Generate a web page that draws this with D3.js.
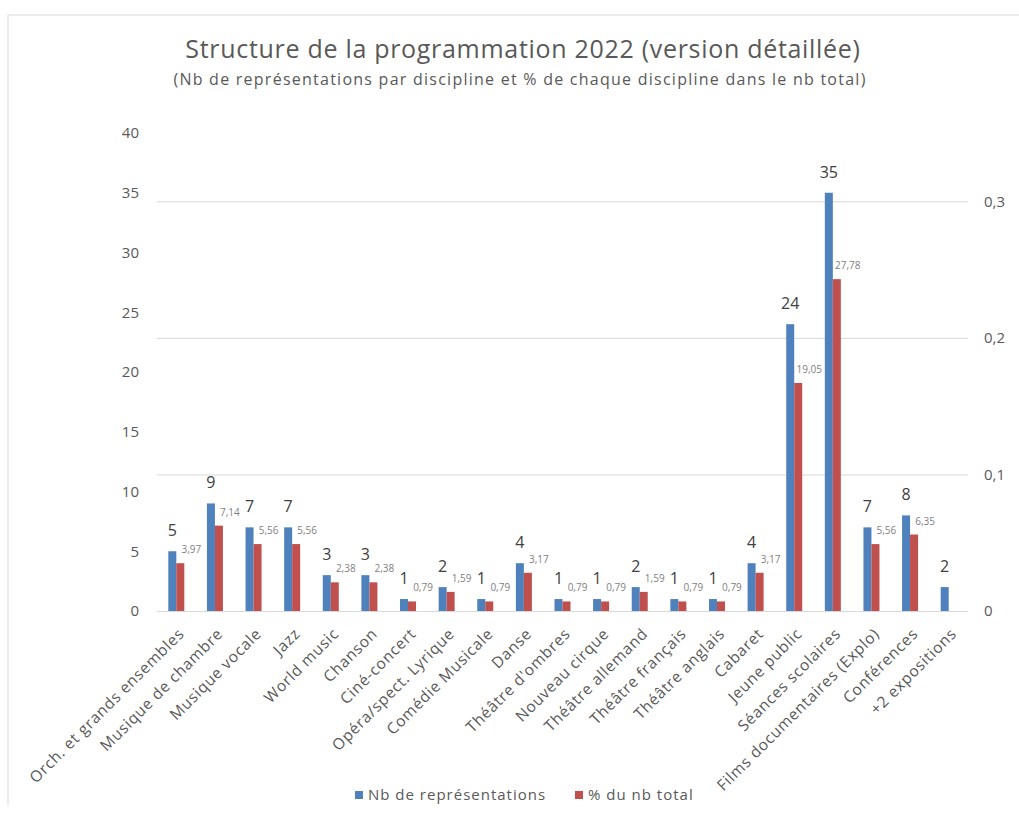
<!DOCTYPE html>
<html>
<head>
<meta charset="utf-8">
<script src="https://cdn.jsdelivr.net/npm/d3@7"></script>
<style>
    body { margin: 0; background: #fff; }
    svg { font-family: "Open Sans", sans-serif; }
</style>
</head>
<body>
<svg></svg>
<script>
const categories = ["Orch. et grands ensembles", "Musique de chambre", "Musique vocale", "Jazz", "World music",
    "Chanson", "Ciné-concert", "Opéra/spect. Lyrique", "Comédie Musicale", "Danse", "Théâtre d'ombres",
    "Nouveau cirque", "Théâtre allemand", "Théâtre français", "Théâtre anglais", "Cabaret", "Jeune public",
    "Séances scolaires", "Films documentaires (Explo)", "Conférences", "+2 expositions"];

// Nb de représentations (axe gauche)
const counts = [5, 9, 7, 7, 3, 3, 1, 2, 1, 4, 1, 1, 2, 1, 1, 4, 24, 35, 7, 8, 2];
// % du nb total (axe droit, tel que tracé)
const shares = [0.035, 0.0625, 0.049, 0.049, 0.021, 0.021, 0.007, 0.014, 0.007, 0.028, 0.007,
    0.007, 0.014, 0.007, 0.007, 0.028, 0.167, 0.243, 0.049, 0.056, null];
// étiquettes affichées pour la série %
const shareLabels = [3.97, 7.14, 5.56, 5.56, 2.38, 2.38, 0.79, 1.59, 0.79, 3.17, 0.79,
    0.79, 1.59, 0.79, 0.79, 3.17, 19.05, 27.78, 5.56, 6.35, null];

const leftTicks = [0, 5, 10, 15, 20, 25, 30, 35, 40];
const rightTicks = [0, 0.1, 0.2, 0.3];
const seriesNames = ["Nb de représentations", "% du nb total"];

let width = 1019,
    height = 819;

const blue = "#4f81bd",
    red = "#c0504d",
    textGray = "#595959";

const frLocale = d3.formatLocale({ decimal: ",", thousands: " ", grouping: [3], currency: ["", " €"] });
const fmt = frLocale.format("~g");
const fmt2 = frLocale.format(".2f");

const svg = d3.select("svg")
    .attr("width", width)
    .attr("height", height);

// cadre
svg.append("path")
    .attr("d", "M8,805 L8,15 L1019,15")
    .attr("fill", "none")
    .attr("stroke", "#d9d9d9");

const plot = { left: 157, right: 968, top: 133, bottom: 611 };

const x = d3.scaleBand()
    .domain(categories)
    .range([plot.left, plot.right]);

const yLeft = d3.scaleLinear()
    .domain([0, 40])
    .range([plot.bottom, plot.top]);

const yRight = d3.scaleLinear()
    .domain([0, 0.35])
    .range([plot.bottom, plot.top]);

const barW = 8;

// titres
svg.append("text")
    .attr("x", 523).attr("y", 58)
    .attr("text-anchor", "middle")
    .attr("font-size", 25)
    .attr("letter-spacing", 0.7)
    .attr("fill", textGray)
    .text("Structure de la programmation 2022 (version détaillée)");

svg.append("text")
    .attr("x", 520).attr("y", 85)
    .attr("text-anchor", "middle")
    .attr("font-size", 16)
    .attr("letter-spacing", 1.25)
    .attr("fill", textGray)
    .text("(Nb de représentations par discipline et % de chaque discipline dans le nb total)");

// grille (axe secondaire)
svg.append("g").attr("class", "grid")
    .selectAll("line")
    .data(rightTicks)
    .enter()
    .append("line")
    .attr("x1", plot.left)
    .attr("x2", plot.right)
    .attr("y1", d => yRight(d) + 0.5)
    .attr("y2", d => yRight(d) + 0.5)
    .attr("stroke", "#d9d9d9");

// axe gauche
const leftAxis = svg.append("g")
    .attr("transform", `translate(${plot.left - 8},0)`)
    .call(d3.axisLeft(yLeft).tickValues(leftTicks).tickSize(0).tickPadding(10));
leftAxis.select(".domain").remove();
leftAxis.selectAll("text").attr("font-size", 15).attr("fill", textGray).attr("font-family", "Open Sans");

// axe droit
const rightAxis = svg.append("g")
    .attr("transform", `translate(${plot.right + 6},0)`)
    .call(d3.axisRight(yRight).tickValues(rightTicks).tickFormat(fmt).tickSize(0).tickPadding(10));
rightAxis.select(".domain").remove();
rightAxis.selectAll("text").attr("font-size", 15).attr("fill", textGray).attr("font-family", "Open Sans");

// barres
svg.append("g").attr("class", "countBars")
    .selectAll("rect")
    .data(counts)
    .enter()
    .append("rect")
    .attr("fill", blue)
    .attr("x", (d, i) => x(categories[i]) + x.bandwidth() / 2 - barW)
    .attr("width", barW)
    .attr("y", d => yLeft(d))
    .attr("height", d => yLeft(0) - yLeft(d));

svg.append("g").attr("class", "shareBars")
    .selectAll("rect")
    .data(shares.map((d, i) => ({ v: d, c: categories[i] })).filter(d => d.v !== null))
    .enter()
    .append("rect")
    .attr("fill", red)
    .attr("x", d => x(d.c) + x.bandwidth() / 2)
    .attr("width", barW)
    .attr("y", d => yRight(d.v))
    .attr("height", d => yRight(0) - yRight(d.v));

// étiquettes de valeurs
svg.append("g").attr("class", "countLabels")
    .selectAll("text")
    .data(counts)
    .enter()
    .append("text")
    .attr("x", (d, i) => x(categories[i]) + x.bandwidth() / 2 - barW / 2)
    .attr("y", d => yLeft(d) - 15)
    .attr("text-anchor", "middle")
    .attr("font-size", 16)
    .attr("fill", "#404040")
    .text(d => d);

svg.append("g").attr("class", "shareLabels")
    .selectAll("text")
    .data(shareLabels.map((d, i) => ({ l: d, v: shares[i], c: categories[i] })).filter(d => d.l !== null))
    .enter()
    .append("text")
    .attr("x", d => x(d.c) + x.bandwidth() / 2 + barW / 2 + 11)
    .attr("y", d => yRight(d.v) - 10)
    .attr("text-anchor", "middle")
    .attr("font-size", 10)
    .attr("fill", "#7f7f7f")
    .text(d => fmt2(d.l));

// étiquettes de catégories
svg.append("g").attr("class", "categoryLabels")
    .selectAll("text")
    .data(categories)
    .enter()
    .append("text")
    .attr("transform", d => `translate(${x(d) + x.bandwidth() / 2 + 5} ${plot.bottom + 20}) rotate(-45)`)
    .attr("text-anchor", "end")
    .attr("dy", "0.35em")
    .attr("font-size", 15.5)
    .attr("letter-spacing", 0.7)
    .attr("fill", textGray)
    .text(d => d);

// légende
const legend = svg.append("g").attr("class", "legend")
    .selectAll("g")
    .data(seriesNames)
    .enter()
    .append("g")
    .attr("transform", (d, i) => `translate(${i === 0 ? 355 : 575} 795)`);

legend.append("rect")
    .attr("y", -4)
    .attr("width", 8)
    .attr("height", 8)
    .attr("fill", (d, i) => i === 0 ? blue : red);

legend.append("text")
    .attr("x", 13)
    .attr("dy", "0.35em")
    .attr("font-size", 15)
    .attr("letter-spacing", 1)
    .attr("fill", textGray)
    .text(d => d);
</script>
</body>
</html>
